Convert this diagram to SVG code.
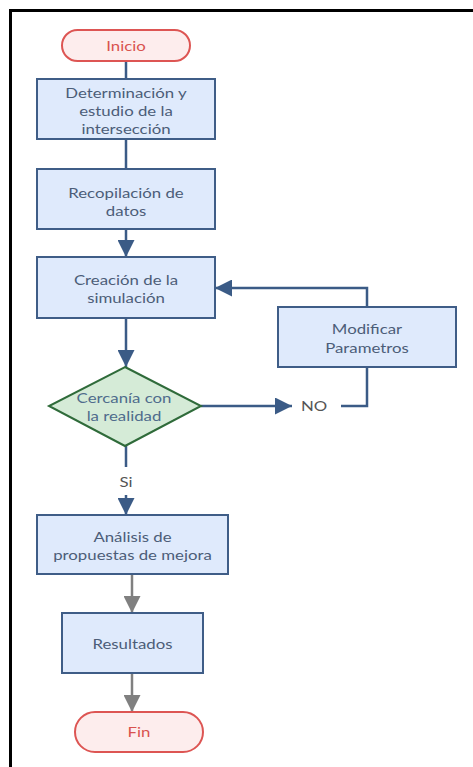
<svg xmlns="http://www.w3.org/2000/svg" width="473" height="767" viewBox="0 0 473 767">
<defs>
<style>
.box{fill:#dfeafc;stroke:#3f5d87;stroke-width:2}
.term{fill:#fdeded;stroke:#dd5553;stroke-width:2}
.dec{fill:#d5ebd7;stroke:#2f6b3a;stroke-width:2}
text{font-family:Lato,"Open Sans",sans-serif;font-size:14px;text-anchor:middle}
.t{fill:#4c5d78}
.tr{fill:#d9534f}
.td{fill:#4f6c8c}
.tl{fill:#555}
.c{fill:none;stroke:#3b5b86;stroke-width:2.5}
.g{fill:none;stroke:#808080;stroke-width:2.5}
</style>
<marker id="ab" markerWidth="17" markerHeight="17" viewBox="0 0 10 10" refX="10" refY="5" markerUnits="userSpaceOnUse" orient="auto"><path d="M0,0 L10,5 L0,10 Z" fill="#3b5b86"/></marker>
<marker id="ag" markerWidth="17" markerHeight="17" viewBox="0 0 10 10" refX="10" refY="5" markerUnits="userSpaceOnUse" orient="auto"><path d="M0,0 L10,5 L0,10 Z" fill="#808080"/></marker>
</defs>
<rect width="473" height="767" fill="#fff"/>
<path d="M10.5,767 V10.5 H473" fill="none" stroke="#000" stroke-width="3"/>
<g id="connectors">
<path class="c" d="M126,61 V79"/>
<path class="c" d="M126,139 V169"/>
<path class="c" d="M126,229 V257" marker-end="url(#ab)"/>
<path class="c" d="M126,318 V367" marker-end="url(#ab)"/>
<path class="c" d="M201,406 H292" marker-end="url(#ab)"/>
<path class="c" d="M341,406 H367 V367"/>
<path class="c" d="M367,307 V288 H215" marker-end="url(#ab)"/>
<path class="c" d="M126,446 V467"/>
<path class="c" d="M126,495 V515" marker-end="url(#ab)"/>
<path class="g" d="M132,574 V613" marker-end="url(#ag)"/>
<path class="g" d="M132,673 V712" marker-end="url(#ag)"/>
<text class="tl" transform="matrix(1.2 0 0 1 314 411)">NO</text>
<text class="tl" transform="matrix(1.2 0 0 1 126 487)">Si</text>
</g>
<g id="inicio"><rect class="term" x="62" y="30" width="128" height="31" rx="15.5"/><text class="tr" transform="matrix(1.2 0 0 1 126 51)">Inicio</text></g>
<g id="determinacion"><rect class="box" x="37" y="79" width="178" height="60"/><text class="t" transform="matrix(1.2 0 0 1 126 98)">Determinación y</text><text class="t" transform="matrix(1.2 0 0 1 126 116)">estudio de la</text><text class="t" transform="matrix(1.2 0 0 1 126 133.5)">intersección</text></g>
<g id="recopilacion"><rect class="box" x="37" y="169" width="178" height="60"/><text class="t" transform="matrix(1.2 0 0 1 126 198)">Recopilación de</text><text class="t" transform="matrix(1.2 0 0 1 126 215.5)">datos</text></g>
<g id="creacion"><rect class="box" x="37" y="257" width="178" height="61"/><text class="t" transform="matrix(1.2 0 0 1 126 285)">Creación de la</text><text class="t" transform="matrix(1.2 0 0 1 126 303)">simulación</text></g>
<g id="modificar"><rect class="box" x="278" y="307" width="178" height="60"/><text class="t" transform="matrix(1.2 0 0 1 367 334)">Modificar</text><text class="t" transform="matrix(1.2 0 0 1 367 352.5)">Parametros</text></g>
<g id="cercania"><path class="dec" d="M125,367 L201,406 L125,446 L49,406 Z"/><text class="td" transform="matrix(1.2 0 0 1 124 403)">Cercanía con</text><text class="td" transform="matrix(1.2 0 0 1 124 421)">la realidad</text></g>
<g id="analisis"><rect class="box" x="37" y="515" width="191" height="59"/><text class="t" transform="matrix(1.2 0 0 1 132.5 542)">Análisis de</text><text class="t" transform="matrix(1.2 0 0 1 132.5 560)">propuestas de mejora</text></g>
<g id="resultados"><rect class="box" x="62" y="613" width="141" height="60"/><text class="t" transform="matrix(1.2 0 0 1 132.5 649)">Resultados</text></g>
<g id="fin"><rect class="term" x="75" y="712" width="128" height="40" rx="20"/><text class="tr" transform="matrix(1.2 0 0 1 139 737)">Fin</text></g>
</svg>
